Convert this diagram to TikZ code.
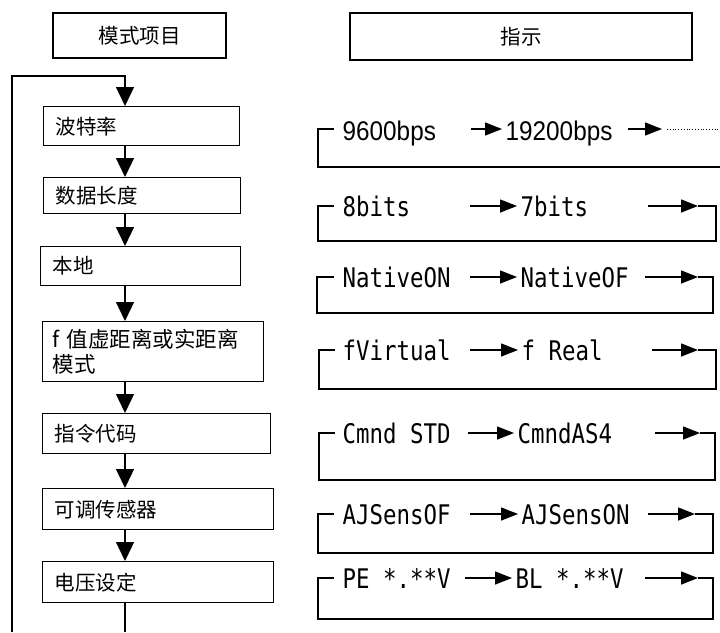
\documentclass[tikz,border=0pt]{standalone}
\usepackage{fontspec}
\newfontfamily\cjkf{Noto Sans CJK SC}
\newfontfamily\monof[FakeStretch=0.83]{DejaVu Sans Mono}
\newfontfamily\arialf[FakeStretch=0.9]{Liberation Sans}
\usetikzlibrary{arrows.meta}
\begin{document}
\begin{tikzpicture}[x=1pt,y=-1pt,line width=1.4pt,
  hdbox/.style={draw,inner sep=0pt,font={\cjkf\fontsize{20.5}{24}\selectfont}},
  lbox/.style={draw,anchor=north west,align=left,inner xsep=12pt,inner ysep=0pt,
               font={\cjkf\fontsize{20.5}{25}\selectfont}},
  lat/.style={anchor=base west,inner sep=0pt,font={\monof\fontsize{27}{30}\selectfont}},
  latp/.style={anchor=base west,inner sep=0pt,font={\arialf\fontsize{27}{30}\selectfont}},
  varr/.style={-{Triangle[length=19pt,width=18pt]}},
  harr/.style={-{Triangle[length=17pt,width=13pt]}},
  rarr/.style={harr,shorten >=3pt},
  dotln/.style={dotted,line width=0.8pt}]
\useasboundingbox (0,0) rectangle (720,632);

% headers
\node[hdbox,minimum width=173pt,minimum height=45pt] (hdA) at (139.5,35.5) {模式项目};
\node[hdbox,minimum width=342pt,minimum height=47pt] (hdB) at (521,36.5) {指示};

% left column boxes
\node[lbox,text width=172pt,minimum height=39pt] (b1) at (43,106) {波特率};
\node[lbox,text width=173pt,minimum height=36pt] (b2) at (43,177) {数据长度};
\node[lbox,text width=176pt,minimum height=39pt] (b3) at (40,246) {本地};
\node[lbox,inner xsep=10pt,text width=201pt,minimum height=60pt,
      font={\cjkf\fontsize{21.5}{25}\selectfont}] (b4) at (42,321) {f 值虚距离或实距离\\模式};
\node[lbox,text width=204pt,minimum height=40pt] (b5) at (42,413) {指令代码};
\node[lbox,text width=207pt,minimum height=41pt] (b6) at (42,488) {可调传感器};
\node[lbox,text width=207pt,minimum height=41pt] (b7) at (42,561) {电压设定};

\coordinate (ax) at (125,0);
\coordinate (lb) at (12,632);
\coordinate (lt) at (125,76);
\coordinate (bend) at (125,632);
\draw[varr] (lb) |- (lt) -- (b1.north -| ax);
\draw[varr] (b1.south -| ax) -- (b2.north -| ax);
\draw[varr] (b2.south -| ax) -- (b3.north -| ax);
\draw[varr] (b3.south -| ax) -- (b4.north -| ax);
\draw[varr] (b4.south -| ax) -- (b5.north -| ax);
\draw[varr] (b5.south -| ax) -- (b6.north -| ax);
\draw[varr] (b6.south -| ax) -- (b7.north -| ax);
\draw (b7.south -| bend) -- (bend);

% row 1
\coordinate (t1) at (334,129);
\coordinate (l1) at (318,167);
\coordinate (r1) at (720,167);
\node[latp] (A1) at (342,140) {9600bps};
\node[latp] (B1) at (505,140) {19200bps};
\coordinate (s1) at (471,129);
\coordinate (e1) at (628,129);
\coordinate (h1) at (662,129);
\coordinate (d1) at (667,129);
\coordinate (d1e) at (720,129);
\draw[rarr] (s1) -- (B1.west |- s1);
\draw[harr] (e1) -- (h1);
\draw[dotln] (d1) -- (d1e);
\draw (r1) -- (l1) |- (t1);

% row 2
\coordinate (t2) at (334,206);
\coordinate (l2) at (318,241);
\coordinate (r2) at (716,241);
\node[lat] (A2) at (342,216) {8bits};
\node[lat] (B2) at (520,216) {7bits};
\coordinate (s2) at (470,206);
\coordinate (e2) at (648,206);
\coordinate (h2) at (698,206);
\draw[rarr] (s2) -- (B2.west |- s2);
\draw[harr] (e2) -- (h2);
\draw (h2) -| (r2) -- (l2) |- (t2);

% row 3
\coordinate (t3) at (334,277);
\coordinate (l3) at (317,313);
\coordinate (r3) at (713,313);
\node[lat] (A3) at (342,287) {NativeON};
\node[lat] (B3) at (520,287) {NativeOF};
\coordinate (s3) at (470,277);
\coordinate (e3) at (645,277);
\coordinate (h3) at (698,277);
\draw[rarr] (s3) -- (B3.west |- s3);
\draw[harr] (e3) -- (h3);
\draw (h3) -| (r3) -- (l3) |- (t3);

% row 4
\coordinate (t4) at (335,350);
\coordinate (l4) at (319,389);
\coordinate (r4) at (716,389);
\node[lat] (A4) at (342,360) {fVirtual};
\node[lat] (B4) at (521,360) {f Real};
\coordinate (s4) at (470,350);
\coordinate (e4) at (652,350);
\coordinate (h4) at (698,350);
\draw[rarr] (s4) -- (B4.west |- s4);
\draw[harr] (e4) -- (h4);
\draw (h4) -| (r4) -- (l4) |- (t4);

% row 5
\coordinate (t5) at (335,433);
\coordinate (l5) at (319,480);
\coordinate (r5) at (715,480);
\node[lat] (A5) at (342,443) {Cmnd STD};
\node[lat] (B5) at (517,443) {CmndAS4};
\coordinate (s5) at (468,433);
\coordinate (e5) at (655,433);
\coordinate (h5) at (700,433);
\draw[rarr] (s5) -- (B5.west |- s5);
\draw[harr] (e5) -- (h5);
\draw (h5) -| (r5) -- (l5) |- (t5);

% row 6
\coordinate (t6) at (334,514);
\coordinate (l6) at (318,553);
\coordinate (r6) at (713,553);
\node[lat] (A6) at (342,524) {AJSensOF};
\node[lat] (B6) at (521,524) {AJSensON};
\coordinate (s6) at (470,514);
\coordinate (e6) at (648,514);
\coordinate (h6) at (695,514);
\draw[rarr] (s6) -- (B6.west |- s6);
\draw[harr] (e6) -- (h6);
\draw (h6) -| (r6) -- (l6) |- (t6);

% row 7
\coordinate (t7) at (334,578);
\coordinate (l7) at (318,619);
\coordinate (r7) at (713,619);
\node[lat] (A7) at (342,588) {PE *.**V};
\node[lat] (B7) at (515,588) {BL *.**V};
\coordinate (s7) at (465,578);
\coordinate (e7) at (645,578);
\coordinate (h7) at (698,578);
\draw[rarr] (s7) -- (B7.west |- s7);
\draw[harr] (e7) -- (h7);
\draw (h7) -| (r7) -- (l7) |- (t7);
\end{tikzpicture}
\end{document}
